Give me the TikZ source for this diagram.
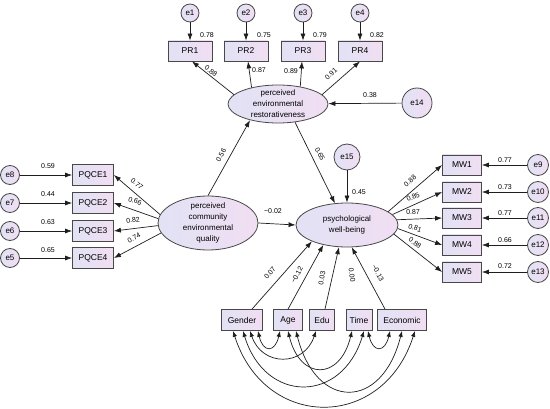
\documentclass[tikz,border=0pt]{standalone}
\usepackage{fontspec}
\setmainfont{Liberation Sans}
\usepackage{tikz}
\usetikzlibrary{shapes.geometric,arrows.meta}
\definecolor{boxblue}{RGB}{226, 226, 244}
\definecolor{boxpink}{RGB}{241, 222, 243}
\definecolor{edgegray}{RGB}{72, 72, 72}
\definecolor{linegray}{RGB}{30, 30, 30}

\tikzset{
    obs/.style={draw=edgegray, line width=0.8pt, left color=boxblue, right color=boxpink,
        minimum width=#1, minimum height=21pt, inner sep=0pt, font=\fontsize{8.5}{10}\selectfont},
    obs/.default=41pt,
    lat/.style={ellipse, draw=edgegray, line width=0.8pt, left color=boxblue, right color=boxpink,
        inner sep=0pt},
    lattext/.style={align=center, font=\fontsize{8}{11}\selectfont, inner sep=0pt},
    err/.style={circle, draw=edgegray, line width=0.8pt, left color=boxblue, right color=boxpink,
        minimum size=#1, inner sep=0pt, font=\fontsize{8}{9}\selectfont},
    err/.default=18pt,
    reg/.style={draw=linegray, line width=0.7pt, -{Latex[length=7pt,width=5pt]}},
    cov/.style={draw=linegray, line width=0.7pt, {Latex[length=6pt,width=4.5pt]}-{Latex[length=6pt,width=4.5pt]}},
    est/.style={font=\fontsize{7}{8}\selectfont, inner sep=0pt},
}

\begin{document}
\begin{tikzpicture}[x=1pt, y=-1pt]
    \useasboundingbox (0,0) rectangle (550,409);

    \node[lat, minimum width=100pt, minimum height=38pt,
        label={[lattext]center:perceived\\environmental\\restorativeness}] (pre) at (278,104) {};
    \node[lat, minimum width=100pt, minimum height=54pt,
        label={[lattext]center:perceived\\community\\environmental\\quality}] (pceq) at (208,223) {};
    \node[lat, minimum width=102pt, minimum height=44pt,
        label={[lattext]center:psychological\\well-being}] (pwb) at (347,225) {};

    \node[err] (e1) at (190,13) {e1};
    \node[err] (e2) at (246,13) {e2};
    \node[err] (e3) at (303,13) {e3};
    \node[err] (e4) at (360,13) {e4};
    \node[obs=44pt, minimum height=20pt] (PR1) at (190,51) {PR1};
    \node[obs=44pt, minimum height=20pt] (PR2) at (246,51) {PR2};
    \node[obs=44pt, minimum height=20pt] (PR3) at (303,51) {PR3};
    \node[obs=44pt, minimum height=20pt] (PR4) at (360,51) {PR4};

    \node[err=30pt] (e14) at (417,103) {e14};
    \node[err=26pt] (e15) at (347,157) {e15};

    \node[err=19pt] (e8) at (10,175) {e8};
    \node[err=19pt] (e7) at (10,203) {e7};
    \node[err=19pt] (e6) at (10,231) {e6};
    \node[err=19pt] (e5) at (10,258) {e5};
    \node[obs] (PQCE1) at (93,175) {PQCE1};
    \node[obs] (PQCE2) at (93,203) {PQCE2};
    \node[obs] (PQCE3) at (93,231) {PQCE3};
    \node[obs] (PQCE4) at (93,258) {PQCE4};

    \node[obs=39pt, minimum height=20pt] (MW1) at (462,165) {MW1};
    \node[obs=39pt, minimum height=20pt] (MW2) at (462,192) {MW2};
    \node[obs=39pt, minimum height=20pt] (MW3) at (462,218) {MW3};
    \node[obs=39pt, minimum height=20pt] (MW4) at (462,245) {MW4};
    \node[obs=39pt, minimum height=20pt] (MW5) at (462,272) {MW5};
    \node[err=21pt] (e9) at (538,165) {e9};
    \node[err=21pt] (e10) at (538,192) {e10};
    \node[err=21pt] (e11) at (538,218) {e11};
    \node[err=21pt] (e12) at (538,245) {e12};
    \node[err=21pt] (e13) at (538,272) {e13};

    \node[obs] (Gender) at (242,320) {Gender};
    \node[obs=29pt] (Age) at (288,320) {Age};
    \node[obs=25pt] (Edu) at (322,320) {Edu};
    \node[obs=26pt] (Time) at (359,320) {Time};
    \node[obs=49pt] (Economic) at (402,320) {Economic};

    \draw[reg] (e1) -- (PR1);
    \draw[reg] (e2) -- (PR2);
    \draw[reg] (e3) -- (PR3);
    \draw[reg] (e4) -- (PR4);
    \node[est] (v1) at (207,35) {0.78};
    \node[est] (v2) at (264,35) {0.75};
    \node[est] (v3) at (320,35) {0.79};
    \node[est] (v4) at (377,35) {0.82};

    \draw[reg] (pre.168) -- ([xshift=2pt]PR1.south);
    \draw[reg] (pre.148) -- ([xshift=2pt]PR2.south);
    \draw[reg] (pre.38) -- ([xshift=-1pt]PR3.south);
    \draw[reg] (pre.12) -- (PR4.south);
    \node[est, rotate=-39] (lpr1) at (211,71) {0.88};
    \node[est] (lpr2) at (259,70) {0.87};
    \node[est] (lpr3) at (291,71) {0.89};
    \node[est, rotate=42] (lpr4) at (331,74) {0.91};

    \draw[reg] (e14) -- (pre);
    \node[est] (v14) at (370,95) {0.38};

    \draw[reg] (pceq.north) -- (pre.210);
    \node[est, rotate=61] (bpre) at (221,155) {0.56};
    \draw[reg] (pre.313) -- (pwb.119);
    \node[est, rotate=-62] (bpwb) at (320,154) {0.65};
    \draw[reg] (pceq.east) -- (pwb.west);
    \node[est] (bdir) at (273,211) {−0.02};
    \draw[reg] (e15) -- (pwb);
    \node[est] (v15) at (359,192) {0.45};

    \draw[reg] (pceq.170) -- (PQCE1.east);
    \draw[reg] (pceq.175) -- (PQCE2.east);
    \draw[reg] (pceq.183) -- (PQCE3.east);
    \draw[reg] (pceq.192) -- (PQCE4.east);
    \node[est, rotate=-40] (lq1) at (137,184) {0.77};
    \node[est, rotate=-19] (lq2) at (135,201) {0.66};
    \node[est, rotate=7] (lq3) at (133,220) {0.82};
    \node[est, rotate=28] (lq4) at (134,238) {0.74};

    \draw[reg] (e8) -- (PQCE1);
    \draw[reg] (e7) -- (PQCE2);
    \draw[reg] (e6) -- (PQCE3);
    \draw[reg] (e5) -- (PQCE4);
    \node[est] (v8) at (48,166) {0.59};
    \node[est] (v7) at (48,194) {0.44};
    \node[est] (v6) at (48,222) {0.63};
    \node[est] (v5) at (48,250) {0.65};

    \draw[reg] (pwb.18) -- (MW1.west);
    \draw[reg] (pwb.13) -- (MW2.west);
    \draw[reg] (pwb.6) -- (MW3.west);
    \draw[reg] (pwb.-4) -- (MW4.west);
    \draw[reg] (pwb.-11) -- (MW5.west);
    \node[est, rotate=40] (lm1) at (410,181) {0.88};
    \node[est, rotate=24] (lm2) at (413,197) {0.85};
    \node[est, rotate=2] (lm3) at (413,212) {0.87};
    \node[est, rotate=-19] (lm4) at (415,228) {0.81};
    \node[est, rotate=-36] (lm5) at (415,243) {0.88};

    \draw[reg] (e9) -- (MW1);
    \draw[reg] (e10) -- (MW2);
    \draw[reg] (e11) -- (MW3);
    \draw[reg] (e12) -- (MW4);
    \draw[reg] (e13) -- (MW5);
    \node[est] (v9) at (505,160) {0.77};
    \node[est] (v10) at (505,187) {0.73};
    \node[est] (v11) at (505,213) {0.77};
    \node[est] (v12) at (505,240) {0.66};
    \node[est] (v13) at (505,266) {0.72};

    \draw[reg] ([xshift=10pt]Gender.north) -- (pwb.205);
    \draw[reg] (Age.north) -- (pwb.220);
    \draw[reg] ([xshift=3pt]Edu.north) -- (pwb.250);
    \draw[reg] ([xshift=-17pt]Economic.north) -- (pwb.282);
    \node[est, rotate=50] (cg) at (270,273) {0.07};
    \node[est, rotate=62] (ca) at (297,275) {−0.12};
    \node[est, rotate=80] (ce) at (322,278) {0.03};
    \node[est, rotate=-82] (ct) at (352,275) {0.00};
    \node[est, rotate=-62] (cx) at (378,273) {−0.13};

    \draw[cov] ([xshift=16pt]Gender.south) .. controls +(5,22) and +(-5,22) .. ([xshift=-8pt]Age.south);
    \draw[cov] ([xshift=8pt]Gender.south) .. controls +(12,36) and +(-12,36) .. ([xshift=-6pt]Edu.south);
    \draw[cov] (Age.south) .. controls +(12,50) and +(-12,50) .. ([xshift=-7pt]Time.south);
    \draw[cov] ([xshift=1pt]Gender.south) .. controls +(22,73) and +(-22,73) .. ([xshift=5pt]Time.south);
    \draw[cov] ([xshift=8pt]Age.south) .. controls +(20,80) and +(-20,80) .. (Economic.south);
    \draw[cov] ([xshift=9pt]Time.south) .. controls +(5,22) and +(-5,22) .. ([xshift=-12pt]Economic.south);
    \draw[cov] ([xshift=-9pt]Gender.south) .. controls +(32,100) and +(-32,100) .. ([xshift=13pt]Economic.south);
\end{tikzpicture}
\end{document}
